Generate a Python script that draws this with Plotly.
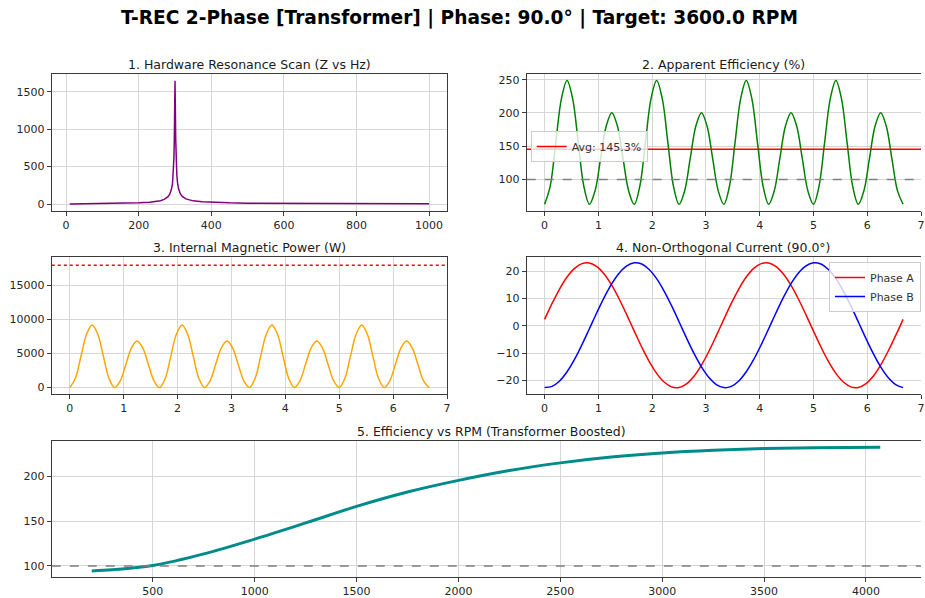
import plotly.graph_objects as go

# ---------------- data ----------------
# Panel 1: resonance scan
freq_hz = [10, 50, 100, 150, 200, 230, 250, 260, 270, 280, 285, 290, 293, 295, 297, 298, 299,
           300, 301, 302, 303, 305, 307, 310, 315, 320, 330, 350, 375, 400, 450, 500, 600,
           700, 800, 900, 1000]
impedance_z = [0.4, 2.2, 5.0, 9.0, 16.0, 23.0, 36.0, 45.0, 62.0, 95.0, 125.0, 193.0, 265.0, 381.0,
               609.0, 845.0, 1265.0, 1647.0, 1262.0, 851.0, 614.0, 387.0, 282.0, 199.0, 135.0,
               102.0, 69.0, 42.5, 29.0, 23.0, 15.5, 12.0, 8.5, 6.5, 5.5, 4.8, 4.3]

# Panels 2 & 3: time axis (s)
time_s = [0.000, 0.104, 0.208, 0.313, 0.417, 0.521, 0.625, 0.729, 0.833, 0.938, 1.042, 1.146,
          1.250, 1.354, 1.458, 1.563, 1.667, 1.771, 1.875, 1.979, 2.083, 2.188, 2.292, 2.396,
          2.500, 2.604, 2.708, 2.813, 2.917, 3.021, 3.125, 3.229, 3.333, 3.438, 3.542, 3.646,
          3.750, 3.854, 3.958, 4.063, 4.167, 4.271, 4.375, 4.479, 4.583, 4.688, 4.792, 4.896,
          5.000, 5.104, 5.208, 5.313, 5.417, 5.521, 5.625, 5.729, 5.833, 5.938, 6.042, 6.146,
          6.250, 6.354, 6.458, 6.563, 6.667]

efficiency_pct = [62.7, 90.0, 155.9, 221.7, 249.0, 221.7, 155.9, 90.0,
                  62.7, 82.9, 131.6, 180.3, 200.5, 180.3, 131.6, 82.9,
                  62.7, 90.0, 155.9, 221.7, 249.0, 221.7, 155.9, 90.0,
                  62.7, 82.9, 131.6, 180.3, 200.5, 180.3, 131.6, 82.9,
                  62.7, 90.0, 155.9, 221.7, 249.0, 221.7, 155.9, 90.0,
                  62.7, 82.9, 131.6, 180.3, 200.5, 180.3, 131.6, 82.9,
                  62.7, 90.0, 155.9, 221.7, 249.0, 221.7, 155.9, 90.0,
                  62.7, 82.9, 131.6, 180.3, 200.5, 180.3, 131.6, 82.9,
                  62.7]
efficiency_avg = 145.3
unity_line = 100

magnetic_power_w = [0, 1350, 4600, 7850, 9200, 7850, 4600, 1350,
                    0, 1000, 3430, 5850, 6850, 5850, 3430, 1000,
                    0, 1350, 4600, 7850, 9200, 7850, 4600, 1350,
                    0, 1000, 3430, 5850, 6850, 5850, 3430, 1000,
                    0, 1350, 4600, 7850, 9200, 7850, 4600, 1350,
                    0, 1000, 3430, 5850, 6850, 5850, 3430, 1000,
                    0, 1350, 4600, 7850, 9200, 7850, 4600, 1350,
                    0, 1000, 3430, 5850, 6850, 5850, 3430, 1000,
                    0]
power_limit_w = 18000

# Panel 4: phase currents
time_i = [0.000, 0.139, 0.278, 0.417, 0.556, 0.694, 0.833, 0.972, 1.111, 1.250, 1.389, 1.528,
          1.667, 1.806, 1.944, 2.083, 2.222, 2.361, 2.500, 2.639, 2.778, 2.917, 3.056, 3.194,
          3.333, 3.472, 3.611, 3.750, 3.889, 4.028, 4.167, 4.306, 4.444, 4.583, 4.722, 4.861,
          5.000, 5.139, 5.278, 5.417, 5.556, 5.694, 5.833, 5.972, 6.111, 6.250, 6.389, 6.528,
          6.667]
phase_a = [2.40, 8.22, 13.49, 17.86, 21.03, 22.78, 23.00, 21.67, 18.88, 14.81, 9.76, 4.06,
           -1.90, -7.72, -12.99, -17.36, -20.53, -22.28, -22.50, -21.17, -18.38, -14.31, -9.26, -3.56,
           2.40, 8.22, 13.49, 17.86, 21.03, 22.78, 23.00, 21.67, 18.88, 14.81, 9.76, 4.06,
           -1.90, -7.72, -12.99, -17.36, -20.53, -22.28, -22.50, -21.17, -18.38, -14.31, -9.26, -3.56,
           2.40]
phase_b = [-22.56, -22.12, -20.15, -16.78, -12.26, -6.89, -1.03, 4.92, 10.55, 15.49, 19.37, 21.96,
           23.06, 22.62, 20.65, 17.28, 12.76, 7.39, 1.53, -4.42, -10.05, -14.99, -18.87, -21.46,
           -22.56, -22.12, -20.15, -16.78, -12.26, -6.89, -1.03, 4.92, 10.55, 15.49, 19.37, 21.96,
           23.06, 22.62, 20.65, 17.28, 12.76, 7.39, 1.53, -4.42, -10.05, -14.99, -18.87, -21.46,
           -22.56]

# Panel 5: efficiency vs rpm
rpm = [200, 300, 400, 500, 750, 1000, 1250, 1500, 1750, 2000, 2250, 2500, 2750, 3000,
       3250, 3500, 3750, 4070]
rpm_efficiency = [94.5, 95.8, 97.8, 100.5, 113.5, 130.0, 148.0, 166.5, 182.5, 195.5, 206.5,
                  215.0, 221.5, 226.0, 229.0, 231.0, 232.0, 232.5]

main_title = "T-REC 2-Phase [Transformer] | Phase: 90.0° | Target: 3600.0 RPM"
titles = ["1. Hardware Resonance Scan (Z vs Hz)", "2. Apparent Efficiency (%)",
          "3. Internal Magnetic Power (W)", "4. Non-Orthogonal Current (90.0°)",
          "5. Efficiency vs RPM (Transformer Boosted)"]

# ---------------- layout helpers ----------------
W, H = 925, 598
FONT = "DejaVu Sans"


def px_x(p):
    return p / W


def px_y(p):
    return 1 - p / H


fig = go.Figure()

fig.add_trace(go.Scatter(x=freq_hz, y=impedance_z, mode="lines",
                         line=dict(color="#800080", width=1.5), showlegend=False,
                         xaxis="x", yaxis="y"))

fig.add_trace(go.Scatter(x=time_s, y=efficiency_pct, mode="lines", line_shape="spline",
                         line=dict(color="#008000", width=1.5), showlegend=False,
                         xaxis="x2", yaxis="y2"))
fig.add_trace(go.Scatter(x=[None], y=[None], mode="lines", name=f"Avg: {efficiency_avg}%",
                         line=dict(color="red", width=1.5), showlegend=True,
                         legend="legend", xaxis="x2", yaxis="y2"))

fig.add_trace(go.Scatter(x=time_s, y=magnetic_power_w, mode="lines", line_shape="spline",
                         line=dict(color="#FFA500", width=1.5), showlegend=False,
                         xaxis="x3", yaxis="y3"))

fig.add_trace(go.Scatter(x=time_i, y=phase_a, mode="lines", line_shape="spline", name="Phase A",
                         line=dict(color="red", width=1.5), legend="legend2",
                         xaxis="x4", yaxis="y4"))
fig.add_trace(go.Scatter(x=time_i, y=phase_b, mode="lines", line_shape="spline", name="Phase B",
                         line=dict(color="blue", width=1.5), legend="legend2",
                         xaxis="x4", yaxis="y4"))

fig.add_trace(go.Scatter(x=rpm, y=rpm_efficiency, mode="lines", line_shape="spline",
                         line=dict(color="#008B8B", width=3), showlegend=False,
                         xaxis="x5", yaxis="y5"))

# horizontal reference lines
fig.add_shape(type="line", xref="x2 domain", yref="y2", x0=0, x1=1, y0=unity_line, y1=unity_line,
              line=dict(color="gray", width=1.5, dash="dash"))
fig.add_shape(type="line", xref="x2 domain", yref="y2", x0=0, x1=1, y0=efficiency_avg,
              y1=efficiency_avg, line=dict(color="red", width=1.5))
fig.add_shape(type="line", xref="x3 domain", yref="y3", x0=0, x1=1, y0=power_limit_w,
              y1=power_limit_w, line=dict(color="red", width=1.5, dash="dot"))
fig.add_shape(type="line", xref="x5 domain", yref="y5", x0=0, x1=1, y0=unity_line, y1=unity_line,
              line=dict(color="gray", width=1.5, dash="dash"))

axis_common = dict(showgrid=True, gridcolor="#d6d6d6", gridwidth=1, zeroline=False,
                   showline=True, linecolor="#3a3a3a", linewidth=1, ticks="outside",
                   ticklen=4, tickwidth=1, tickcolor="#3a3a3a", tickformat="d",
                   tickfont=dict(family=FONT, size=11, color="#262626"))

# panel boxes (pixels)
boxes = {
    1: (52, 449, 74, 211),
    2: (529, 925, 74, 211),
    3: (52, 449, 257, 394),
    4: (529, 925, 257, 394),
    5: (52, 925, 441, 577),
}
xranges = {1: [-39.5, 1049.5], 2: [-0.333, 7.0], 3: [-0.333, 7.0], 4: [-0.333, 7.0],
           5: [4, 4270]}
yranges = {1: [-93, 1736], 2: [52.6, 258.6], 3: [-941, 19206], 4: [-24.9, 25.2],
           5: [87.7, 239.4]}
xdticks = {1: 200, 2: 1, 3: 1, 4: 1, 5: 500}
ydticks = {1: 500, 2: 50, 3: 5000, 4: 10, 5: 50}
ymirror = {1: True, 2: False, 3: True, 4: False, 5: False}

layout_axes = {}
for k, (x0, x1, y0, y1) in boxes.items():
    xa = "xaxis" if k == 1 else f"xaxis{k}"
    ya = "yaxis" if k == 1 else f"yaxis{k}"
    yid = "y" if k == 1 else f"y{k}"
    xid = "x" if k == 1 else f"x{k}"
    layout_axes[xa] = dict(axis_common, domain=[px_x(x0), px_x(x1)], range=xranges[k],
                           dtick=xdticks[k], tick0=0, anchor=yid, mirror=True)
    layout_axes[ya] = dict(axis_common, domain=[px_y(y1), px_y(y0)], range=yranges[k],
                           dtick=ydticks[k], tick0=0, anchor=xid, mirror=ymirror[k])

fig.update_layout(**layout_axes)

# titles
title_pos = [(250.5, 64), (727, 64), (250.5, 247), (727, 247), (494, 431)]
annots = [dict(text=f"<b>{main_title}</b>", x=px_x(461), y=px_y(18), xref="paper", yref="paper",
               showarrow=False, xanchor="center", yanchor="middle",
               font=dict(family=FONT, size=18.6, color="#000000"))]
for t, (cx, cy) in zip(titles, title_pos):
    annots.append(dict(text=t, x=px_x(cx), y=px_y(cy), xref="paper", yref="paper",
                       showarrow=False, xanchor="center", yanchor="middle",
                       font=dict(family=FONT, size=12.5, color="#1a1a1a")))

fig.update_layout(
    width=W, height=H, margin=dict(l=0, r=0, t=0, b=0),
    paper_bgcolor="white", plot_bgcolor="white",
    font=dict(family=FONT, size=11, color="#333333"),
    annotations=annots,
    legend=dict(x=px_x(533), y=px_y(131), xanchor="left", yanchor="top",
                bgcolor="rgba(255,255,255,0.8)", bordercolor="#cccccc", borderwidth=1,
                font=dict(family=FONT, size=11, color="#333333"), itemwidth=30,
                tracegroupgap=0),
    legend2=dict(x=1.0, y=px_y(262), xanchor="right", yanchor="top",
                 bgcolor="rgba(255,255,255,0.8)", bordercolor="#cccccc", borderwidth=1,
                 font=dict(family=FONT, size=11, color="#333333"), itemwidth=30,
                 tracegroupgap=0),
)

fig.write_html("out.html",
               config={"displayModeBar": False},
               post_script="document.body.style.margin='0';"
                           "document.body.style.overflow='hidden';")
